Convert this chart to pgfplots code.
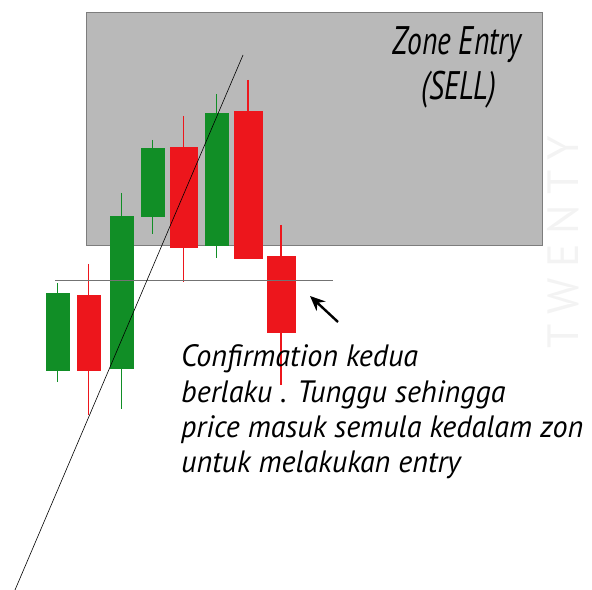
\documentclass[border=0pt]{standalone}
\usepackage{pgfplots}
\pgfplotsset{compat=1.18}
\usepgfplotslibrary{statistics}
\usetikzlibrary{arrows.meta}
\usepackage{fontspec}
\setmainfont{PT Sans}

\definecolor{cgreen}{RGB}{17,142,38}
\definecolor{cred}{RGB}{237,22,28}
\definecolor{zonefill}{RGB}{185,185,185}
\definecolor{zoneline}{RGB}{125,125,125}
\definecolor{wmark}{RGB}{243,243,243}

\tikzset{note/.style={anchor=base west, inner sep=0pt,
  font=\itshape\fontsize{31}{31}\selectfont}}

% candle: colour, x, width, low, body bottom, body top, high
\newcommand{\candle}[7]{%
  \addplot[fill=#1, draw=#1, line width=0.4pt,
    boxplot prepared={draw direction=y, draw position=#2, box extend=#3,
      whisker extend=0,
      lower whisker=#4, lower quartile=#5, median=#5,
      upper quartile=#6, upper whisker=#7,
      every whisker/.style={draw=#1, line width=1.1bp}}] coordinates {};}

\begin{document}
\begin{tikzpicture}
\useasboundingbox (0,0) rectangle (592bp,590bp);
\begin{axis}[
    at={(0,0)}, anchor=south west,
    width=592bp, height=590bp, scale only axis,
    xmin=0, xmax=592, ymin=0, ymax=590,
    hide axis, clip=false
]
% faint watermark
\node[rotate=90, anchor=base west, text=wmark, font=\fontsize{44}{44}\selectfont]
  at (axis cs:578,238) {T\hspace{10bp}W\hspace{10bp}E\hspace{10bp}N\hspace{10bp}T\hspace{10bp}Y};

% entry zone
\addplot[fill=zonefill, draw=zoneline, line width=0.6pt] coordinates {
    (86,345) (542,345) (542,578) (86,578)} -- cycle;

% candles (price = 590 - pixel row)
\candle{cgreen}{57.5}{23}{208}{220}{297}{307}
\candle{cred}{88.5}{23}{175}{220}{295}{326}
\candle{cgreen}{121.5}{23}{181}{222}{374}{397}
\candle{cgreen}{152.5}{23}{356}{374}{442}{450}
\candle{cred}{183.5}{27}{308}{343}{443}{474}
\candle{cgreen}{216.5}{23}{332}{345}{477}{496}
\candle{cred}{248}{28}{332}{332}{479}{510}
\candle{cred}{281}{28}{205}{258}{334}{365}

% support line and trend line
\addplot[draw=black!55, line width=0.8pt] coordinates {(55,309.5) (333,309.5)};
\addplot[draw=black, line width=0.6pt] coordinates {(15,0) (243,535)};

% pointer
\draw[line width=2.4pt, -{Stealth[length=15bp, width=13bp]}]
  (axis cs:338,268) -- (axis cs:310,294);

% labels
\node[anchor=base, font=\itshape\fontsize{40}{40}\selectfont] at (axis cs:457,535)
  {\scalebox{0.74}[1]{Zone Entry}};
\node[anchor=base, font=\itshape\fontsize{40}{40}\selectfont] at (axis cs:459,490)
  {\scalebox{0.74}[1]{(SELL)}};

\node[note] at (axis cs:181,224) {\scalebox{0.975}[1]{Confirmation kedua}};
\node[note] at (axis cs:181,188) {\scalebox{0.975}[1]{berlaku . Tunggu sehingga}};
\node[note] at (axis cs:181,153) {\scalebox{0.975}[1]{price masuk semula kedalam zon}};
\node[note] at (axis cs:181,118) {\scalebox{0.975}[1]{untuk melakukan entry}};
\end{axis}
\end{tikzpicture}
\end{document}
